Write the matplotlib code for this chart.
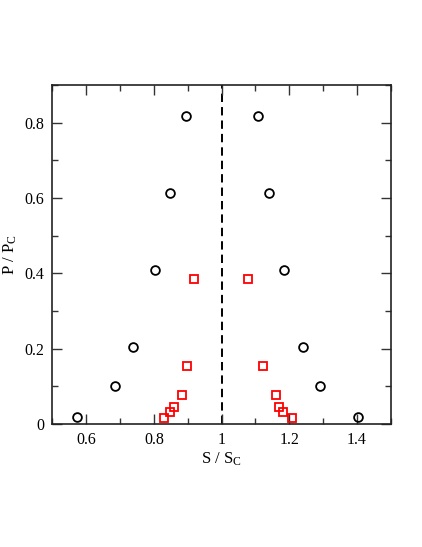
import matplotlib
matplotlib.use("Agg")
import matplotlib.pyplot as plt
from matplotlib.ticker import MultipleLocator

# Data
circ_s = [0.574, 0.686, 0.739, 0.804, 0.847, 0.895,
          1.108, 1.139, 1.185, 1.242, 1.292, 1.404]
circ_p = [0.019, 0.102, 0.204, 0.408, 0.613, 0.817,
          0.817, 0.613, 0.408, 0.204, 0.102, 0.019]
sq_s = [0.831, 0.848, 0.860, 0.882, 0.897, 0.919,
        1.077, 1.123, 1.161, 1.170, 1.181, 1.207]
sq_p = [0.015, 0.032, 0.046, 0.076, 0.155, 0.385,
        0.385, 0.155, 0.076, 0.046, 0.032, 0.015]
crit_s = 1.0
xticks = [0.6, 0.8, 1.0, 1.2, 1.4]
xticklabels = ["0.6", "0.8", "1", "1.2", "1.4"]
yticks = [0, 0.2, 0.4, 0.6, 0.8]
yticklabels = ["0", "0.2", "0.4", "0.6", "0.8"]

plt.rcParams['font.family'] = ['Liberation Serif', 'DejaVu Serif']
plt.rcParams['mathtext.fontset'] = 'custom'
plt.rcParams['mathtext.rm'] = 'Liberation Serif'
plt.rcParams['mathtext.it'] = 'Liberation Serif:italic'

fig = plt.figure(figsize=(4.22, 5.47), dpi=100)
ax = fig.add_axes([0.124, 0.2249, 0.802, 0.6197])

ax.axvline(crit_s, color='black', linestyle=(0, (4.3, 2.6)), linewidth=1.4, zorder=1)
ax.plot(circ_s, circ_p, linestyle='none', marker='o', markersize=6.3,
        markerfacecolor='none', markeredgecolor='black', markeredgewidth=1.3, zorder=3)
ax.plot(sq_s, sq_p, linestyle='none', marker='s', markersize=5.6,
        markerfacecolor='none', markeredgecolor='#ff0000', markeredgewidth=1.3, zorder=3)

ax.set_xlim(0.5, 1.5)
ax.set_ylim(0, 0.9)
ax.set_xticks(xticks)
ax.set_xticklabels(xticklabels)
ax.set_yticks(yticks)
ax.set_yticklabels(yticklabels)
ax.xaxis.set_minor_locator(MultipleLocator(0.1))
ax.yaxis.set_minor_locator(MultipleLocator(0.1))
ax.tick_params(which='both', direction='in', top=True, right=True, labelsize=11.5,
               width=1.0, color='#333333')
ax.tick_params(which='major', length=7.5, pad=6)
ax.tick_params(which='minor', length=4)
for sp in ax.spines.values():
    sp.set_linewidth(1.2)
    sp.set_color('#222222')

ax.set_xlabel(r'S / S$_\mathrm{C}$', fontsize=12, labelpad=2)
ax.set_ylabel(r'P / P$_\mathrm{C}$', fontsize=12, labelpad=4)

fig.savefig('out.png', dpi=100)
